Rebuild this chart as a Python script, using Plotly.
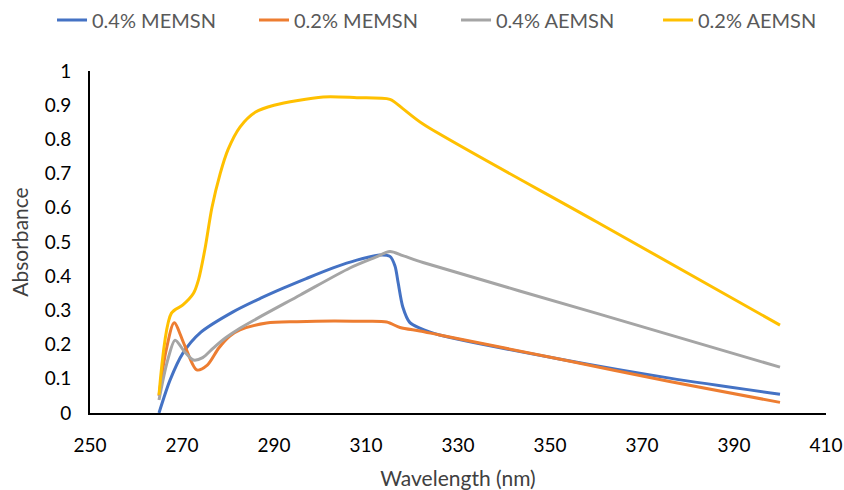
import plotly.graph_objects as go

# Wavelength (nm) / absorbance readings for each series
wl_blue = [265, 267.4, 270.2, 274, 281, 287, 292, 297, 303, 308, 313, 315.2, 316.3, 317, 318, 319.5, 321.7, 326, 352, 376, 400]
abs_blue = [0.0, 0.096, 0.175, 0.235, 0.295, 0.335, 0.365, 0.393, 0.425, 0.447, 0.462, 0.458, 0.43, 0.38, 0.31, 0.265, 0.248, 0.228, 0.158, 0.102, 0.055]

wl_orange = [265, 266.5, 268.3, 270.5, 273.2, 275.5, 278, 280.4, 282.6, 288.4, 295, 303, 309, 314.5, 317.4, 321.7, 326, 352, 376, 400]
abs_orange = [0.05, 0.18, 0.264, 0.2, 0.126, 0.14, 0.19, 0.225, 0.243, 0.263, 0.267, 0.269, 0.268, 0.266, 0.25, 0.24, 0.228, 0.158, 0.092, 0.031]

wl_gray = [265, 266.8, 268.5, 270.5, 272.5, 274.5, 276.8, 279.5, 282.6, 295.7, 306.5, 312, 315.2, 318, 322.4, 360, 400]
abs_gray = [0.038, 0.15, 0.213, 0.18, 0.155, 0.162, 0.19, 0.22, 0.248, 0.345, 0.424, 0.455, 0.472, 0.46, 0.44, 0.292, 0.134]

wl_yellow = [265, 267.7, 270.2, 272.5, 273.6, 275, 276.5, 278.3, 280, 282.6, 286, 290, 300.7, 308, 315.2, 318, 322.4, 360, 400]
abs_yellow = [0.053, 0.292, 0.316, 0.35, 0.39, 0.48, 0.6, 0.70, 0.77, 0.836, 0.88, 0.90, 0.924, 0.922, 0.917, 0.89, 0.845, 0.56, 0.257]

series = [
    ("0.4% MEMSN", wl_blue, abs_blue, "#4472C4"),
    ("0.2% MEMSN", wl_orange, abs_orange, "#ED7D31"),
    ("0.4% AEMSN", wl_gray, abs_gray, "#A5A5A5"),
    ("0.2% AEMSN", wl_yellow, abs_yellow, "#FFC000"),
]

x_ticks = [250, 270, 290, 310, 330, 350, 370, 390, 410]
y_ticks = [0, 0.1, 0.2, 0.3, 0.4, 0.5, 0.6, 0.7, 0.8, 0.9, 1]
y_tick_text = ["0", "0.1", "0.2", "0.3", "0.4", "0.5", "0.6", "0.7", "0.8", "0.9", "1"]

fig = go.Figure()
for name, xs, ys, col in series:
    fig.add_trace(go.Scatter(x=xs, y=ys, name=name, mode="lines",
                             line=dict(color=col, width=3, shape="spline", smoothing=0.8)))

font_family = "Lato"
fig.update_layout(
    width=844, height=490,
    margin=dict(l=90, r=18, t=71, b=77, autoexpand=False),
    paper_bgcolor="white", plot_bgcolor="white",
    font=dict(family=font_family, size=19, color="#000000"),
    showlegend=True,
    legend=dict(orientation="h", x=-0.0516, xanchor="left", y=1.149, yanchor="middle",
                font=dict(size=20, color="#595959"), itemwidth=30, entrywidth=157,
                bgcolor="rgba(0,0,0,0)"),
    xaxis=dict(range=[250, 410], tickvals=x_ticks, showgrid=False, zeroline=False,
               showline=True, linecolor="#000000", linewidth=2, ticks="", ticklabelstandoff=14,
               title=dict(text="Wavelength (nm)", font=dict(size=21, color="#404040"), standoff=17)),
    yaxis=dict(range=[0, 1], tickvals=y_ticks, ticktext=y_tick_text, showgrid=False, zeroline=False,
               showline=True, linecolor="#000000", linewidth=2, ticks="", ticklabelstandoff=13,
               title=dict(text="Absorbance", font=dict(size=21, color="#404040"), standoff=10)),
)

fig.write_html("out.html", config={"displayModeBar": False},
               post_script="document.body.style.margin='0';document.body.style.overflow='hidden';")
